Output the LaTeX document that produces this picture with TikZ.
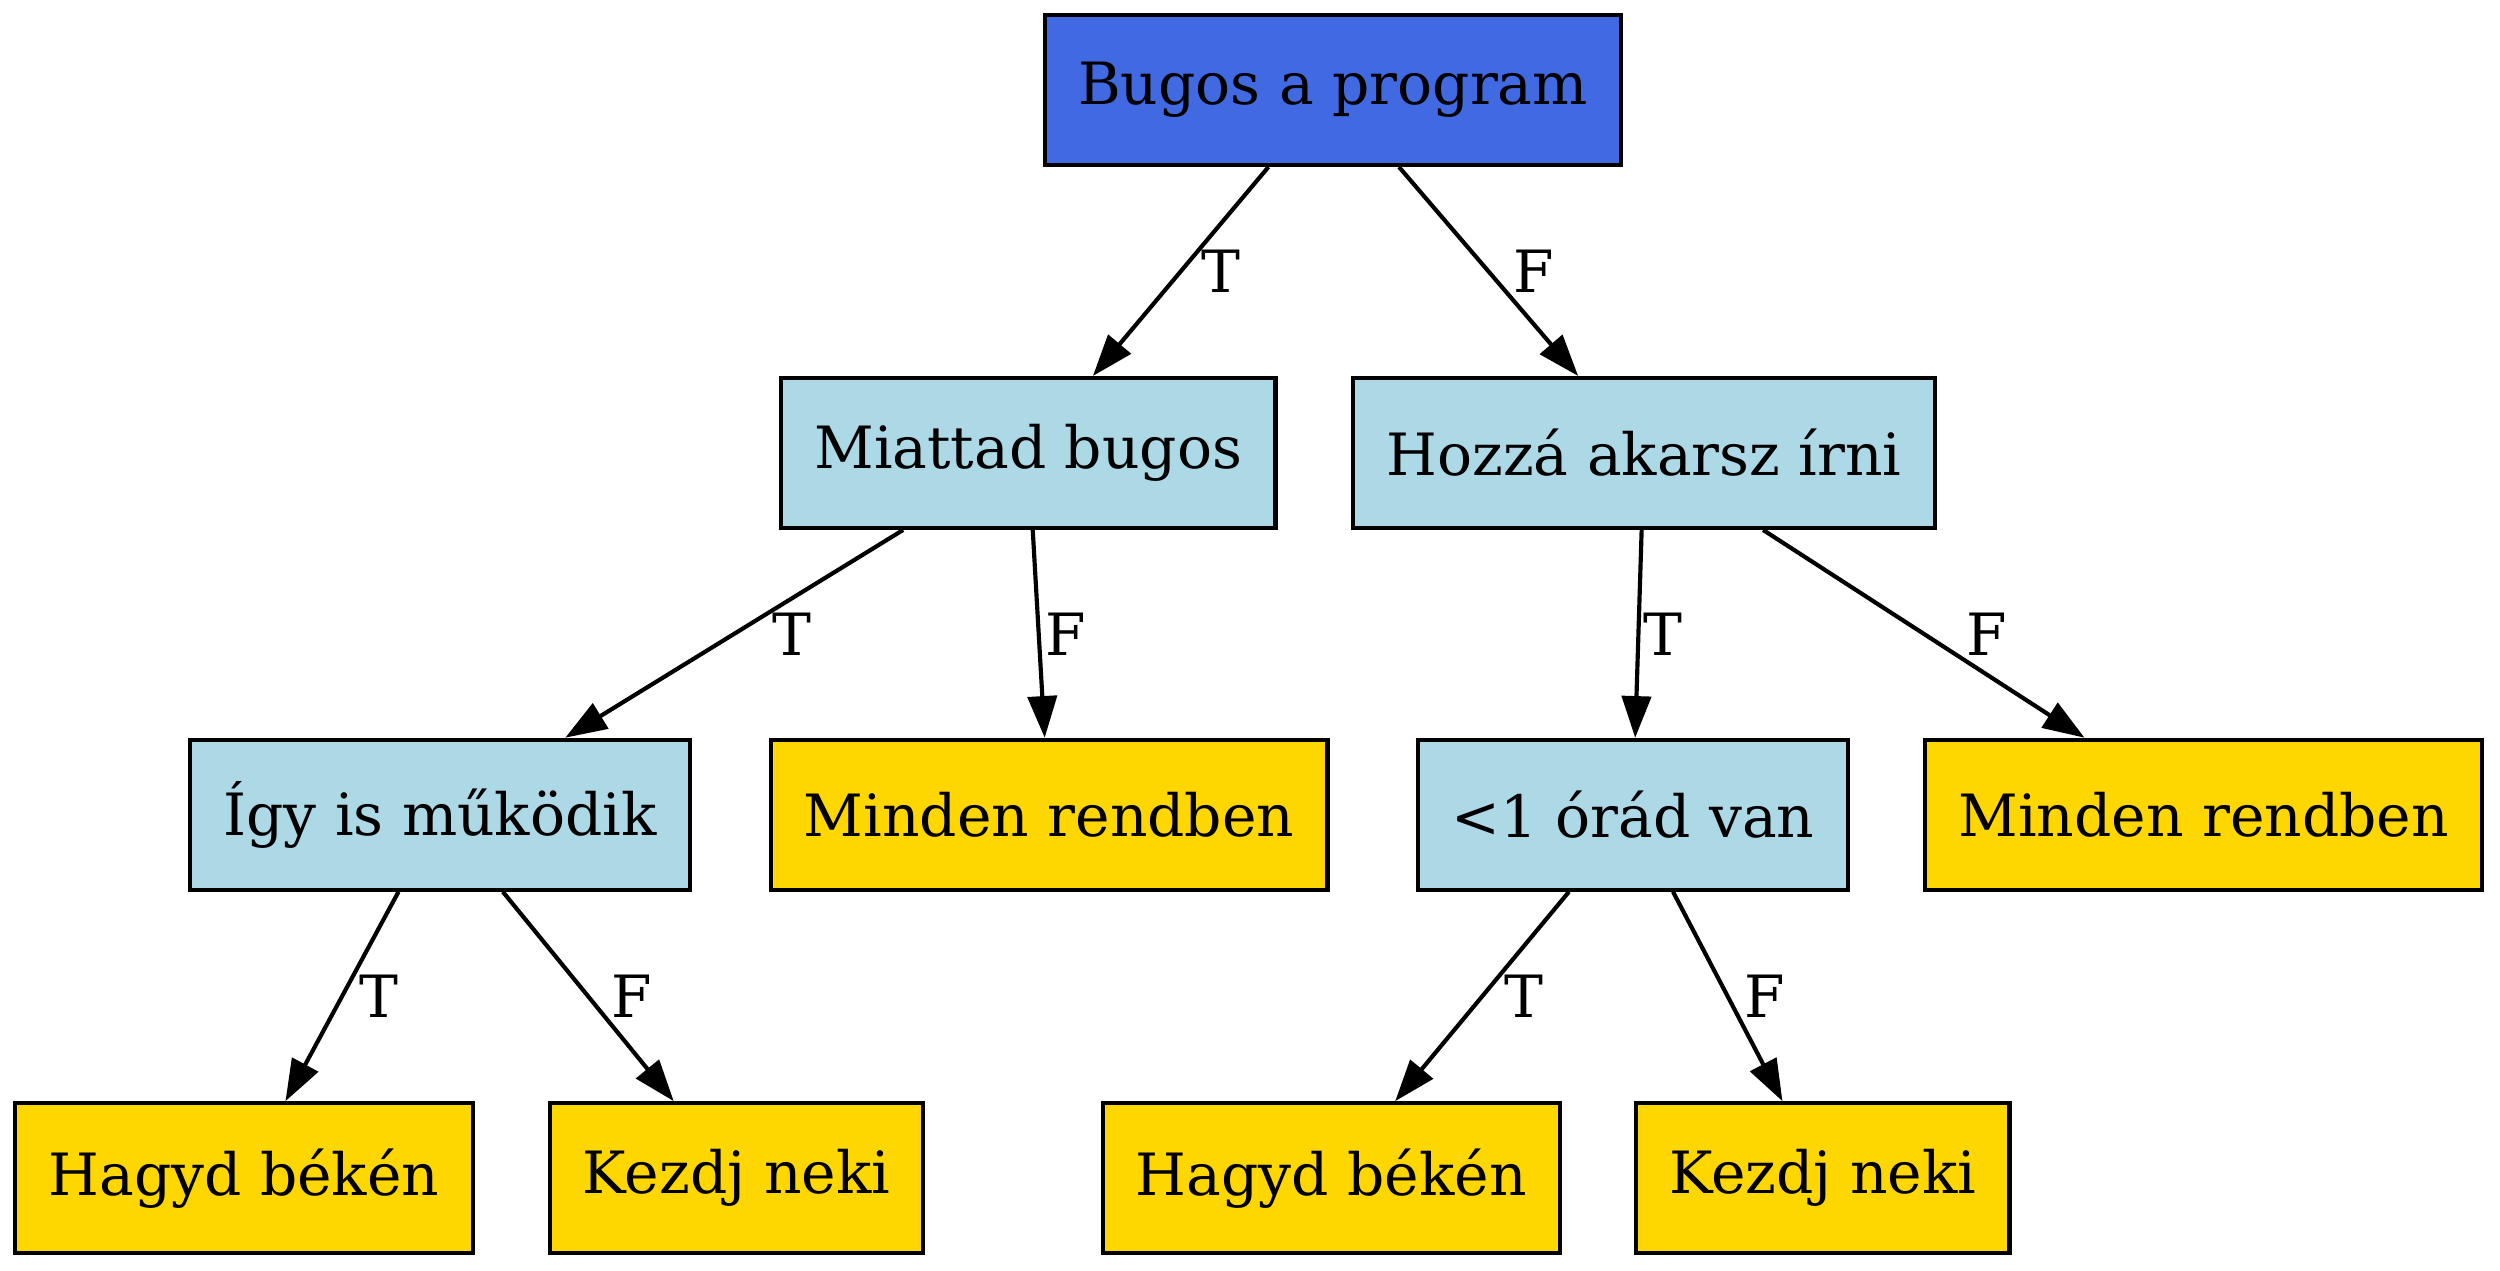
\documentclass[tikz,border=0pt]{standalone}
\usepackage{fontspec}
\setmainfont{DejaVu Serif}
\usepackage{tikz}
\usetikzlibrary{arrows.meta}
\definecolor{royalblue}{HTML}{4169E1}
\definecolor{lightblue}{HTML}{ADD8E6}
\definecolor{gold}{HTML}{FFD700}

\tikzset{
  box/.style={draw, line width=1pt, minimum height=36pt, inner xsep=8pt, font=\fontsize{14}{16}\selectfont},
  question/.style={box, fill=lightblue},
  answer/.style={box, fill=gold},
  edge/.style={line width=1pt, -{Triangle[length=10pt,width=7pt]}},
  lbl/.style={anchor=west, inner sep=0pt, xshift=#1, font=\fontsize{14}{16}\selectfont},
}

\begin{document}
\begin{tikzpicture}[x=1pt,y=1pt]

\useasboundingbox (0,0) rectangle (600.5,-305.2);

\node[box, fill=royalblue] (bugos) at (320.2,-21.6) {Bugos a program};

\node[question] (miattad) at (247.0,-108.8) {Miattad bugos};
\node[question] (hozza) at (394.9,-108.8) {Hozzá akarsz írni};

\node[question] (igy) at (105.7,-195.7) {Így is működik};
\node[answer] (rendben1) at (252.0,-195.7) {Minden rendben};
\node[question] (ora) at (392.2,-195.7) {<1 órád van};
\node[answer] (rendben2) at (529.3,-195.7) {Minden rendben};

\node[answer] (hagyd1) at (58.6,-283.0) {Hagyd békén};
\node[answer] (kezdj1) at (176.9,-283.0) {Kezdj neki};
\node[answer] (hagyd2) at (319.8,-283.0) {Hagyd békén};
\node[answer] (kezdj2) at (437.8,-283.0) {Kezdj neki};

\draw[edge] (bugos) -- node[lbl=4.5pt]{T} (miattad);
\draw[edge] (bugos) -- node[lbl=5.5pt]{F} (hozza);

\draw[edge] (miattad) -- node[lbl=8.7pt]{T} (igy);
\draw[edge] (miattad) -- node[lbl=1.2pt]{F} (rendben1);
\draw[edge] (hozza) -- node[lbl=0.7pt]{T} (ora);
\draw[edge] (hozza) -- node[lbl=9.7pt]{F} (rendben2);

\draw[edge] (igy) -- node[lbl=3.7pt]{T} (hagyd1);
\draw[edge] (igy) -- node[lbl=5pt]{F} (kezdj1);
\draw[edge] (ora) -- node[lbl=4.9pt]{T} (hagyd2);
\draw[edge] (ora) -- node[lbl=3.5pt]{F} (kezdj2);

\end{tikzpicture}
\end{document}
